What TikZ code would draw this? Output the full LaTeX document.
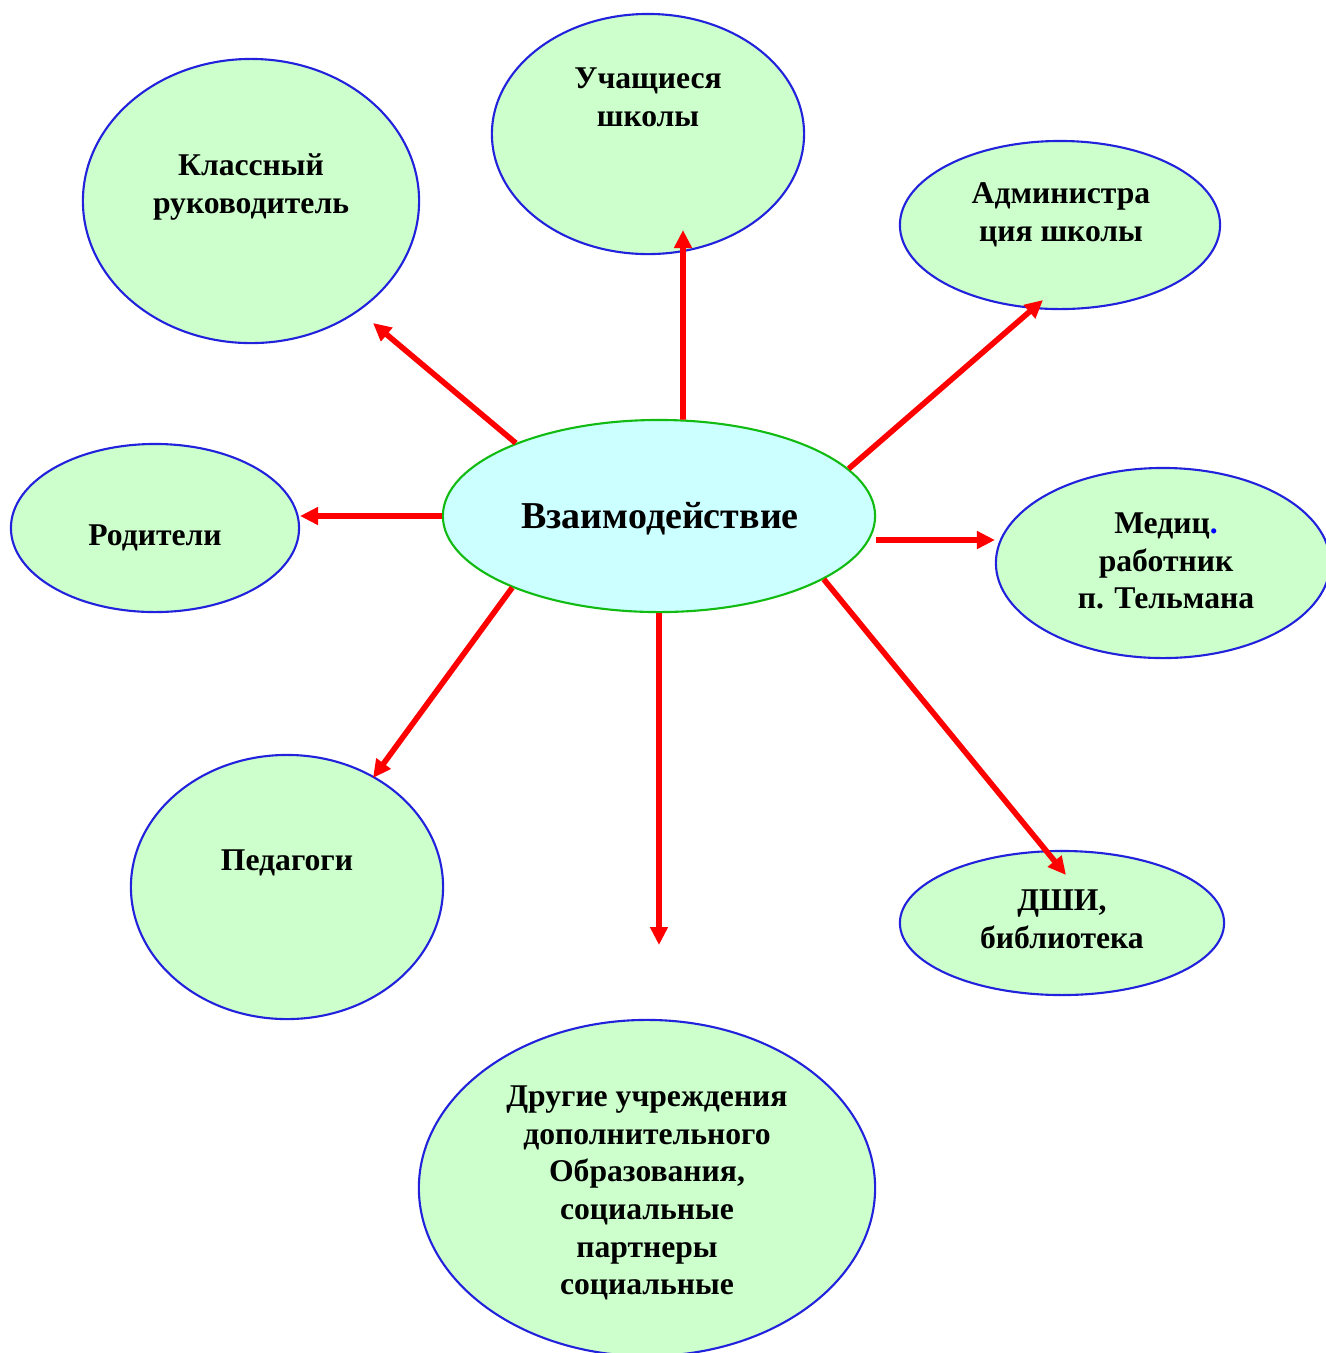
\documentclass[tikz,border=0pt]{standalone}
\usepackage{fontspec}
\setmainfont{Liberation Serif}
\usetikzlibrary{arrows.meta,shapes.geometric}

\definecolor{partnergreen}{HTML}{CCFFCC}
\definecolor{partnerblue}{HTML}{2222DD}
\definecolor{centercyan}{HTML}{CCFFFF}
\definecolor{centergreen}{HTML}{11BB11}

\begin{document}
\begin{tikzpicture}[x=0.01cm,y=-0.01cm,
  >={Triangle[length=1.8mm,width=1.7mm]},
  partner/.style={ellipse,draw=partnerblue,fill=partnergreen,line width=0.6pt,inner sep=0pt},
  caption/.style={font=\bfseries\fontsize{9pt}{10.7pt}\selectfont,align=center},
  link/.style={->,draw=red,line width=1.6pt}]

  \useasboundingbox (0,0) rectangle (1326,1353);

  % centre
  \node[ellipse,draw=centergreen,fill=centercyan,line width=0.6pt,inner sep=0pt,
        minimum width=4.32cm,minimum height=1.92cm] (c) at (659,516) {};
  \node[font=\bfseries\fontsize{10.8pt}{13pt}\selectfont] (ct) at (660,519) {Взаимодействие};

  % partners
  \node[partner,minimum width=3.12cm,minimum height=2.40cm] (uch) at (648,134) {};
  \node[partner,minimum width=3.36cm,minimum height=2.84cm] (kl) at (251,201) {};
  \node[partner,minimum width=3.20cm,minimum height=1.68cm] (adm) at (1060,225) {};
  \node[partner,minimum width=2.88cm,minimum height=1.68cm] (rod) at (155,528) {};
  \node[partner,minimum width=3.34cm,minimum height=1.90cm] (med) at (1163,563) {};
  \node[partner,minimum width=3.12cm,minimum height=2.64cm] (ped) at (287,887) {};
  \node[partner,minimum width=3.24cm,minimum height=1.44cm] (dshi) at (1062,923) {};
  \node[partner,minimum width=4.56cm,minimum height=3.36cm] (dr) at (647,1188) {};

  \node[caption] (uch-t) at (648,97) {Учащиеся\\школы};
  \node[caption] (kl-t) at (251,187) {Классный\\руководитель};
  \node[caption] (adm-t) at (1061,215) {Администра\\ция школы};
  \node[caption] (rod-t) at (155,538) {Родители};
  \node[caption] (med-t) at (1166,561) {Медиц\textcolor{blue}{.}\\работник\\ п. Тельмана};
  \node[caption] (ped-t) at (287,863) {Педагоги};
  \node[caption] (dshi-t) at (1062,919) {ДШИ,\\библиотека};
  \node[caption] (dr-t) at (647,1193) {Другие учреждения\\дополнительного\\Образования,\\социальные\\партнеры\\социальные};

  % arrow ends
  \coordinate (uch-end) at (683,230);
  \coordinate (kl-end) at (373,323);
  \coordinate (adm-end) at (1043,300);
  \coordinate (rod-end) at (300,516);
  \coordinate (med-end) at (995,540);
  \coordinate (ped-end) at (373,778);
  \coordinate (dr-end) at (659,945);
  \coordinate (dshi-end) at (1066,875);

  \draw[link] (c.76.2) -- (uch-end);
  \draw[link] (c.153.2) -- (kl-end);
  \draw[link] (c.14.3) -- (adm-end);
  \draw[link] (c.west) -- (rod-end);
  \draw[link] (c.east |- med-end) -- (med-end);
  \draw[link] (c.206.5) -- (ped-end);
  \draw[link] (c.south) -- (dr-end);
  \draw[link] (c.-21) -- (dshi-end);
\end{tikzpicture}
\end{document}
